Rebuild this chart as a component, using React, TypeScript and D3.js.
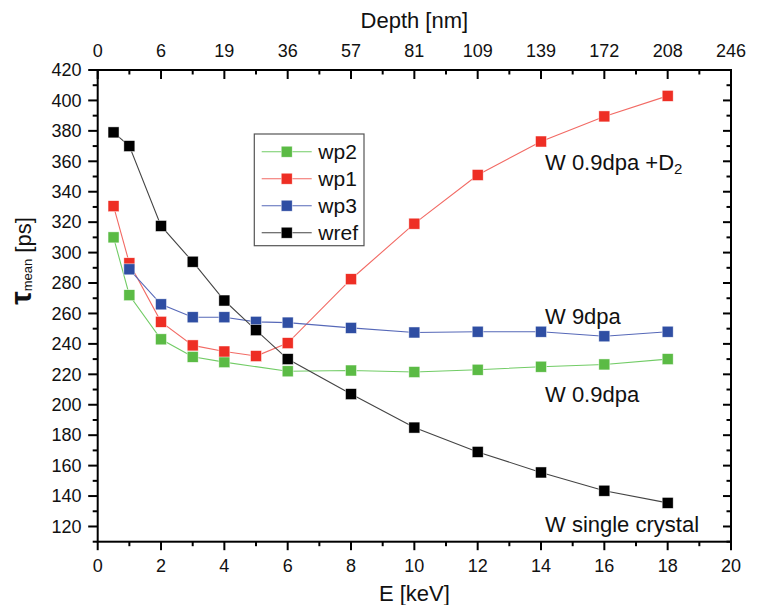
import React from "react";
import * as d3 from "d3";

const E_FULL = [0.5, 1, 2, 3, 4, 5, 6, 8, 10, 12, 14, 16, 18];
const WREF = [379, 370, 317.5, 294, 268.5, 249, 230, 207, 185, 169, 155.5, 143.5, 135.5];
const WP1 = [330.5, 293, 254.5, 239, 235, 232, 240.5, 282.5, 319, 351, 373, 389.5, 403];
const E_WP3 = [1, 2, 3, 4, 5, 6, 8, 10, 12, 14, 16, 18];
const WP3 = [289, 266, 257.5, 257.5, 254.5, 254, 250.5, 247.5, 248, 248, 245, 248];
const E_WP2 = [0.5, 1, 2, 3, 4, 6, 8, 10, 12, 14, 16, 18];
const WP2 = [310, 272, 243, 231.5, 228, 222, 222.5, 221.5, 223, 225, 226.5, 230];

const X_TICKS = [0, 2, 4, 6, 8, 10, 12, 14, 16, 18, 20];
const DEPTH_LABELS = ["0", "6", "19", "36", "57", "81", "109", "139", "172", "208", "246"];
const Y_TICKS = [120, 140, 160, 180, 200, 220, 240, 260, 280, 300, 320, 340, 360, 380, 400, 420];

const SERIES = [
  { name: "wp2", xs: E_WP2, ys: WP2, color: "#5bbb45", line: "#72cc66" },
  { name: "wp1", xs: E_FULL, ys: WP1, color: "#ee2e24", line: "#f26a64" },
  { name: "wp3", xs: E_WP3, ys: WP3, color: "#2f4ea3", line: "#5668b8" },
  { name: "wref", xs: E_FULL, ys: WREF, color: "#000000", line: "#444444" },
];

const FONT = "'Liberation Sans', Arial, Helvetica, sans-serif";

export default function App() {
  const L = 97.7, R = 731, T = 70, B = 541.7;
  const x = d3.scaleLinear().domain([0, 20]).range([L, R]);
  const y = d3.scaleLinear().domain([110, 420]).range([B, T]);
  const line = d3.line<[number, number]>().x((d) => x(d[0])).y((d) => y(d[1]));
  const minorX = d3.range(1, 20, 2);
  const minorY = d3.range(110, 421, 20);
  const ms = 11;

  return (
    <svg width={758} height={605} style={{ position: "absolute", left: 0, top: 0, background: "#fff" }} fontFamily={FONT}>
      <rect x={0} y={0} width={758} height={605} fill="#fff" />
      {/* series */}
      {SERIES.map((s) => {
        const pts = s.xs.map((v, i) => [v, s.ys[i]] as [number, number]);
        return (
          <g key={s.name}>
            <path d={line(pts) || ""} fill="none" stroke={s.line} strokeWidth={1.1} />
            {pts.map((p, i) => (
              <rect key={i} x={x(p[0]) - ms / 2} y={y(p[1]) - ms / 2} width={ms} height={ms} fill={s.color} stroke="#fff" strokeWidth={0.6} strokeOpacity={0.8} />
            ))}
          </g>
        );
      })}
      {/* frame */}
      <rect x={L} y={T} width={R - L} height={B - T} fill="none" stroke="#000" strokeWidth={2} />
      {/* bottom axis ticks (outward), top ticks inward */}
      {X_TICKS.map((t) => (
        <g key={"bx" + t}>
          <line x1={x(t)} x2={x(t)} y1={B} y2={B + 8.5} stroke="#000" strokeWidth={2} />
          <text x={x(t)} y={571.5} textAnchor="middle" fontSize={18} fill="#111">{t}</text>
          <line x1={x(t)} x2={x(t)} y1={T} y2={T + 9} stroke="#000" strokeWidth={2} />
        </g>
      ))}
      {minorX.map((t) => (
        <g key={"mx" + t}>
          <line x1={x(t)} x2={x(t)} y1={B} y2={B + 4.5} stroke="#000" strokeWidth={2} />
          <line x1={x(t)} x2={x(t)} y1={T} y2={T + 4.5} stroke="#000" strokeWidth={2} />
        </g>
      ))}
      {/* top labels */}
      {X_TICKS.map((t, i) => (
        <text key={"tl" + t} x={x(t)} y={56.5} textAnchor="middle" fontSize={18} fill="#111">{DEPTH_LABELS[i]}</text>
      ))}
      {/* left & right ticks */}
      {Y_TICKS.map((t) => (
        <g key={"ly" + t}>
          <line x1={L - 9.5} x2={L} y1={y(t)} y2={y(t)} stroke="#000" strokeWidth={2} />
          <line x1={R - 8} x2={R} y1={y(t)} y2={y(t)} stroke="#000" strokeWidth={2} />
          <text x={81.5} y={y(t)} dy="0.35em" textAnchor="end" fontSize={18} fill="#111">{t}</text>
        </g>
      ))}
      {minorY.map((t) => (
        <g key={"my" + t}>
          <line x1={L - 5} x2={L} y1={y(t)} y2={y(t)} stroke="#000" strokeWidth={2} />
          <line x1={R - 4.5} x2={R} y1={y(t)} y2={y(t)} stroke="#000" strokeWidth={2} />
        </g>
      ))}
      {/* axis titles */}
      <text x={(L + R) / 2} y={27.5} textAnchor="middle" fontSize={22} fill="#111">Depth [nm]</text>
      <text x={(L + R) / 2} y={601} textAnchor="middle" fontSize={22} fill="#111">E [keV]</text>
      <text transform="translate(31,261) rotate(-90)" textAnchor="middle" fill="#111">
        <tspan fontSize={30} fontWeight="bold">τ</tspan>
        <tspan fontSize={13} dy={1}>mean</tspan>
        <tspan fontSize={22} dy={-1}> [ps]</tspan>
      </text>
      {/* annotations */}
      <text x={545} y={169.5} fontSize={22} fill="#111">
        W 0.9dpa +D<tspan fontSize={15} dy={4}>2</tspan>
      </text>
      <text x={545} y={324} fontSize={22} fill="#111">W 9dpa</text>
      <text x={545} y={401.5} fontSize={22} fill="#111">W 0.9dpa</text>
      <text x={545} y={531.5} fontSize={22} fill="#111">W single crystal</text>
      {/* legend */}
      <rect x={254.3} y={134} width={109.7} height={111.7} fill="#fff" stroke="#555" strokeWidth={1.2} />
      {SERIES.map((s, i) => {
        const cy = 151.7 + i * 27;
        return (
          <g key={"lg" + s.name}>
            <line x1={261.7} x2={311.7} y1={cy} y2={cy} stroke={s.line} strokeWidth={1.1} />
            <rect x={286.7 - ms / 2} y={cy - ms / 2} width={ms} height={ms} fill={s.color} stroke="#fff" strokeWidth={0.6} strokeOpacity={0.8} />
            <text x={318.3} y={cy} dy="0.36em" fontSize={21} fill="#111">{s.name}</text>
          </g>
        );
      })}
    </svg>
  );
}
